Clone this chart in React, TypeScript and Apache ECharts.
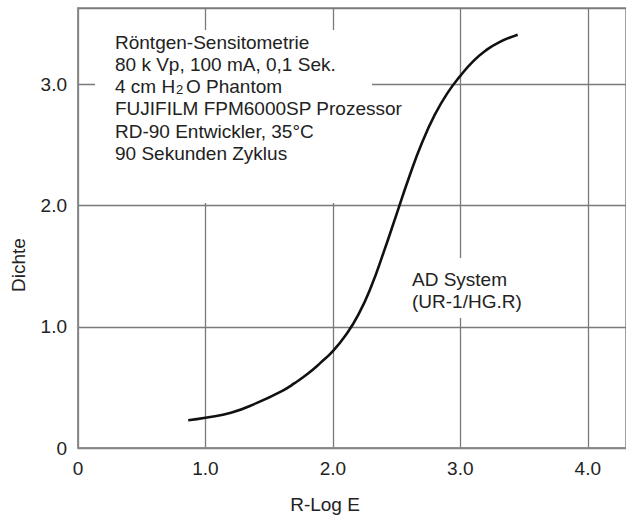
import React, { useEffect, useRef } from "react";
import * as echarts from "echarts";

// Characteristic curve: R-Log E (x) vs. density (y)
const logE = [0.865, 1.0, 1.2, 1.4, 1.6, 1.7, 1.8, 1.9, 2.0, 2.1, 2.2, 2.3, 2.4, 2.5, 2.6, 2.7, 2.8, 2.9, 3.0, 3.1, 3.2, 3.3, 3.45];
const density = [0.229, 0.25, 0.29, 0.37, 0.47, 0.535, 0.61, 0.7, 0.8, 0.93, 1.1, 1.33, 1.62, 1.93, 2.24, 2.52, 2.75, 2.93, 3.07, 3.19, 3.28, 3.345, 3.41];

const xAxisName = "R-Log E";
const yAxisName = "Dichte";

const infoLines = [
  "Röntgen-Sensitometrie",
  "80 k Vp, 100 mA, 0,1 Sek.",
  "",
  "FUJIFILM FPM6000SP Prozessor",
  "RD-90 Entwickler, 35°C",
  "90 Sekunden Zyklus",
];
const phantomParts = ["4 cm H", "2", "O Phantom"];
const systemLines = ["AD System", "(UR-1/HG.R)"];

const FONT = "'Liberation Sans', Arial, Helvetica, sans-serif";
const TEXT_COLOR = "#222";

function tickLabel(v: number): string {
  if (Math.abs(v - Math.round(v)) > 1e-6) return "";
  const r = Math.round(v);
  return r === 0 ? "0" : r.toFixed(1);
}

export default function App() {
  const ref = useRef<HTMLDivElement>(null);

  useEffect(() => {
    if (!ref.current) return;
    const chart = echarts.init(ref.current, null, { renderer: "svg" });

    const lineY0 = 42;
    const lineStep = 22.3;

    const infoTexts: any[] = [];
    infoLines.forEach((t, i) => {
      if (!t) return;
      infoTexts.push({
        type: "text",
        x: 115,
        y: lineY0 + i * lineStep,
        style: { text: t, font: `19px ${FONT}`, fill: TEXT_COLOR, verticalAlign: "middle", align: "left" },
      });
    });
    const y3 = lineY0 + 2 * lineStep;
    infoTexts.push(
      {
        type: "text",
        x: 115,
        y: y3,
        style: { text: phantomParts[0], font: `19px ${FONT}`, fill: TEXT_COLOR, verticalAlign: "middle" },
      },
      {
        type: "text",
        x: 176,
        y: y3 + 3,
        style: { text: phantomParts[1], font: `13px ${FONT}`, fill: TEXT_COLOR, verticalAlign: "middle" },
      },
      {
        type: "text",
        x: 186,
        y: y3,
        style: { text: phantomParts[2], font: `19px ${FONT}`, fill: TEXT_COLOR, verticalAlign: "middle" },
      }
    );

    const systemTexts = systemLines.map((t, i) => ({
      type: "text",
      x: 412,
      y: 279.5 + i * 22.3,
      style: { text: t, font: `19px ${FONT}`, fill: TEXT_COLOR, verticalAlign: "middle" },
    }));

    chart.setOption({
      animation: false,
      backgroundColor: "#fff",
      grid: {
        left: 78,
        top: 8,
        right: -5,
        bottom: 72,
        show: true,
        borderColor: "#8a8a8a",
        borderWidth: 1.5,
        containLabel: false,
      },
      xAxis: {
        type: "value",
        min: 0,
        max: 4.3,
        interval: 1,
        name: xAxisName,
        nameLocation: "middle",
        nameGap: 47,
        nameTextStyle: { fontFamily: FONT, fontSize: 19, color: TEXT_COLOR, padding: [0, 54, 0, 0] },
        axisLine: { show: true, lineStyle: { color: "#8a8a8a", width: 1.5 } },
        axisTick: { show: false },
        axisLabel: {
          formatter: tickLabel,
          fontFamily: FONT,
          fontSize: 19,
          color: TEXT_COLOR,
          margin: 11,
          showMaxLabel: false,
        },
        splitLine: { show: true, lineStyle: { color: "#7a7a7a", width: 1.3 } },
      },
      yAxis: {
        type: "value",
        min: 0,
        max: 3.63,
        interval: 1,
        name: yAxisName,
        nameLocation: "middle",
        nameGap: 50,
        nameTextStyle: { fontFamily: FONT, fontSize: 19, color: TEXT_COLOR, padding: [0, 74, 0, 0] },
        axisLine: { show: true, lineStyle: { color: "#8a8a8a", width: 1.5 } },
        axisTick: { show: false },
        axisLabel: {
          formatter: tickLabel,
          fontFamily: FONT,
          fontSize: 19,
          color: TEXT_COLOR,
          margin: 11,
          showMaxLabel: false,
        },
        splitLine: { show: true, lineStyle: { color: "#7a7a7a", width: 1.3 } },
      },
      series: [
        {
          type: "line",
          data: logE.map((x, i) => [x, density[i]]),
          smooth: 0.5,
          showSymbol: false,
          symbol: "none",
          lineStyle: { color: "#111", width: 2.6 },
          z: 5,
        },
      ],
      graphic: [
        {
          type: "rect",
          shape: { x: 95, y: 30, width: 277, height: 173 },
          style: { fill: "#fff" },
          z: 3,
        },
        {
          type: "rect",
          shape: { x: 405, y: 258, width: 122, height: 60 },
          style: { fill: "#fff" },
          z: 3,
        },
        ...infoTexts.map((e) => ({ ...e, z: 4 })),
        ...systemTexts.map((e) => ({ ...e, z: 4 })),
      ],
    });

    return () => {
      chart.dispose();
    };
  }, []);

  return (
    <div
      ref={ref}
      style={{ position: "fixed", left: 0, top: 0, width: 626, height: 520, background: "#fff" }}
    />
  );
}
